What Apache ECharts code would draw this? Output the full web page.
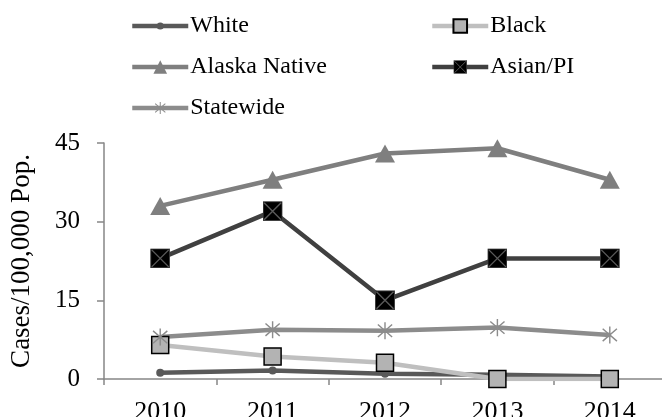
<!DOCTYPE html>
<html>
<head>
<meta charset="utf-8">
<script src="https://cdn.jsdelivr.net/npm/echarts@6/dist/echarts.min.js"></script>
<style>
  html, body { margin: 0; padding: 0; background: #fff; }
  #chart { width: 662px; height: 417px; }
</style>
</head>
<body>
<div id="chart"></div>
<script>
// Case rates per 100,000 population by group, 2010-2014
const years = ['2010', '2011', '2012', '2013', '2014'];
const white = [1.2, 1.6, 1.0, 0.8, 0.5];
const black = [6.5, 4.3, 3.1, 0, 0];
const alaskaNative = [33, 38, 43, 44, 38];
const asianPI = [23, 32, 15, 23, 23];
const statewide = [8.0, 9.4, 9.2, 9.8, 8.4];
const yTicks = [0, 15, 30, 45];

const FONT = '"Liberation Serif", "Times New Roman", serif';

function svgSymbol(svg) {
  return 'image://data:image/svg+xml;charset=utf-8,' + encodeURIComponent(svg);
}

// Asterisk marker (vertical stroke plus an X)
const starSymbol = svgSymbol(
  "<svg xmlns='http://www.w3.org/2000/svg' width='40' height='40' viewBox='0 0 20 20'>" +
  "<path d='M10 1V19M2.5 3.5L17.5 16.5M17.5 3.5L2.5 16.5' stroke='#8c8c8c' stroke-width='1.5' fill='none'/></svg>"
);
// Black square with a grey X through it
const xSquareSymbol = svgSymbol(
  "<svg xmlns='http://www.w3.org/2000/svg' width='40' height='40' viewBox='0 0 20 20'>" +
  "<rect x='0.5' y='0.5' width='19' height='19' fill='#000' stroke='#404040' stroke-width='1'/>" +
  "<path d='M1.5 1.5L18.5 18.5M18.5 1.5L1.5 18.5' stroke='#5a5a5a' stroke-width='1.4' fill='none'/></svg>"
);

const seriesDefs = [
  { name: 'White', data: white, color: '#595959', symbol: 'circle', size: 8,
    itemStyle: { color: '#595959' } },
  { name: 'Black', data: black, color: '#bfbfbf', symbol: 'rect', size: 17,
    itemStyle: { color: '#b3b3b3', borderColor: '#000', borderWidth: 1.5 } },
  { name: 'Alaska Native', data: alaskaNative, color: '#7f7f7f', symbol: 'triangle', size: [20, 18],
    itemStyle: { color: '#7f7f7f' } },
  { name: 'Asian/PI', data: asianPI, color: '#404040', symbol: xSquareSymbol, size: 20,
    itemStyle: { color: '#000' } },
  { name: 'Statewide', data: statewide, color: '#8c8c8c', symbol: starSymbol, size: 19,
    itemStyle: { color: '#8c8c8c' } }
];

const series = seriesDefs.map(d => ({
  name: d.name,
  type: 'line',
  data: d.data,
  symbol: d.symbol,
  symbolSize: d.size,
  showAllSymbol: true,
  lineStyle: { color: d.color, width: 4.5 },
  itemStyle: d.itemStyle,
  color: d.color,
  animation: false
}));

// One legend per entry so the two columns line up
const LEGEND_LINE_H = 26;
const legendPos = [
  { name: 'White', left: 130, cy: 26, h: 9 },
  { name: 'Black', left: 430, cy: 26, h: 17 },
  { name: 'Alaska Native', left: 130, cy: 67, h: 17 },
  { name: 'Asian/PI', left: 430, cy: 67, h: 17 },
  { name: 'Statewide', left: 130, cy: 108, h: 17 }
];
const legends = legendPos.map(p => ({
  data: [p.name],
  left: p.left,
  top: p.cy - LEGEND_LINE_H / 2,
  itemWidth: 56,
  itemHeight: p.h,
  itemGap: 0,
  padding: 0,
  selectedMode: false,
  lineStyle: { width: 4.5 },
  textStyle: {
    fontFamily: FONT, fontSize: 24, color: '#000',
    lineHeight: LEGEND_LINE_H, padding: [0, 0, 0, -3]
  }
}));

const chart = echarts.init(document.getElementById('chart'));
chart.setOption({
  backgroundColor: '#fff',
  animation: false,
  legend: legends,
  // the plot area runs past the right edge of the canvas
  grid: { left: 104, right: -4, top: 143, bottom: 38, outerBoundsMode: 'none', containLabel: false },
  xAxis: {
    type: 'category',
    data: years,
    boundaryGap: true,
    axisLine: { lineStyle: { color: '#868686', width: 1.5 } },
    axisTick: { show: true, length: 6, lineStyle: { color: '#868686', width: 1.5 } },
    axisLabel: { fontFamily: FONT, fontSize: 26, color: '#000', margin: 20 }
  },
  yAxis: {
    type: 'value',
    min: yTicks[0],
    max: yTicks[yTicks.length - 1],
    interval: 15,
    name: 'Cases/100,000 Pop.',
    nameLocation: 'middle',
    nameRotate: 90,
    nameGap: 69,
    nameTextStyle: { fontFamily: FONT, fontSize: 27, color: '#000' },
    splitLine: { show: false },
    axisLine: { show: true, lineStyle: { color: '#868686', width: 1.5 } },
    axisTick: { show: true, length: 7, lineStyle: { color: '#868686', width: 1.5 } },
    axisLabel: { fontFamily: FONT, fontSize: 25, color: '#000', margin: 24 }
  },
  series: series
});
</script>
</body>
</html>
